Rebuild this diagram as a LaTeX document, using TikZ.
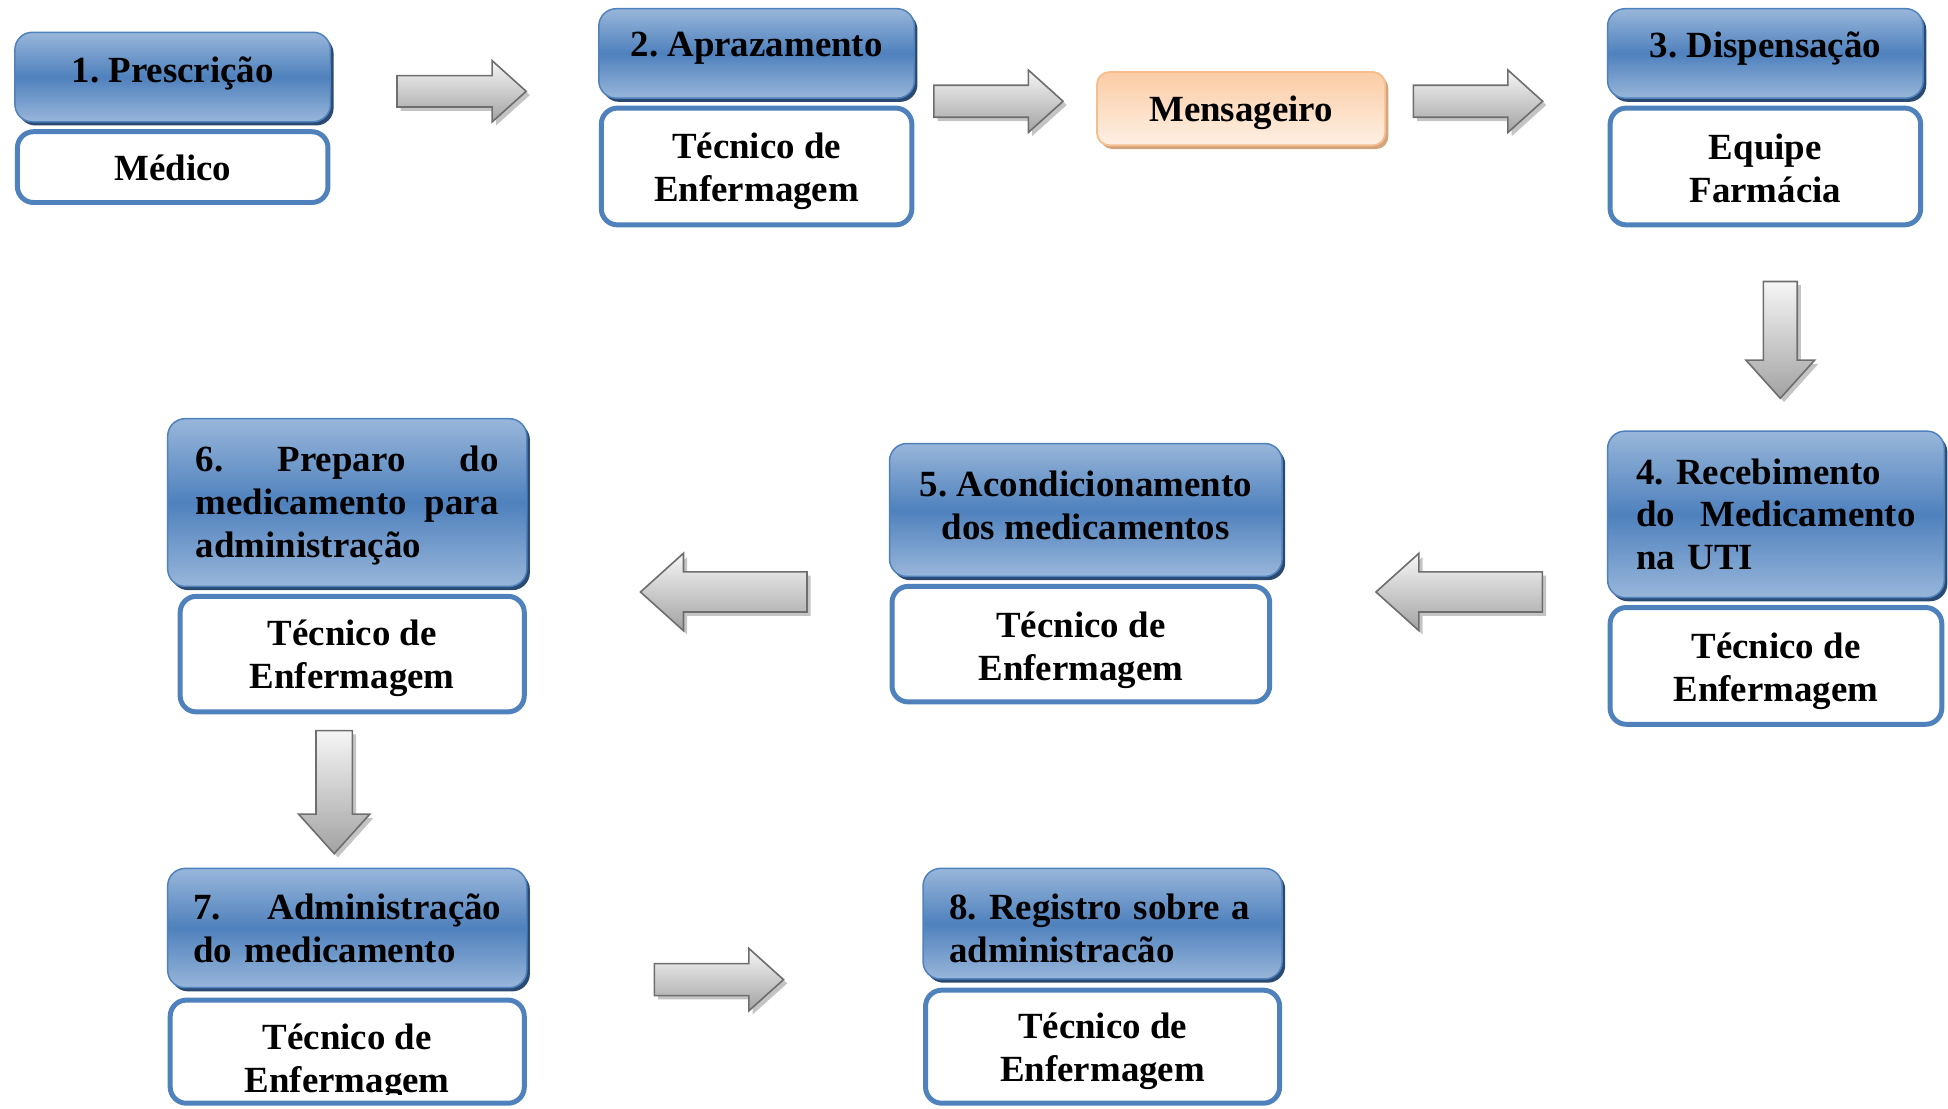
\documentclass[tikz,border=0pt]{standalone}
\usepackage{fontspec}
\setmainfont{Liberation Serif}
\usetikzlibrary{shapes.arrows,shadows}

\definecolor{hdrEdge}{HTML}{4F81BD}
\definecolor{hdrLight}{HTML}{98B6DA}
\definecolor{hdrDark}{HTML}{4F81BD}
\definecolor{hdrShadow}{HTML}{2B4A72}
\definecolor{roleEdge}{HTML}{4F81BD}
\definecolor{msgEdge}{HTML}{F6BE8F}
\definecolor{msgTop}{HTML}{FBCCA5}
\definecolor{msgBottom}{HTML}{FEF0E4}
\definecolor{msgShadow}{HTML}{D2A47C}
\definecolor{arrEdge}{HTML}{6E6E6E}
\definecolor{arrTop}{HTML}{F6F6F6}
\definecolor{arrDark}{HTML}{A2A2A2}
\definecolor{arrShadow}{HTML}{C4C4C4}

\newcommand\stagefont{\fontsize{29.7}{34.5}\selectfont\bfseries\frenchspacing}

\tikzset{
  stage/.style={draw=hdrEdge, line width=1.2pt, rounded corners=14pt,
    top color=hdrLight, bottom color=hdrLight, middle color=hdrDark,
    drop shadow={shadow xshift=2.5pt, shadow yshift=-3pt, fill=hdrShadow, opacity=1},
    inner sep=0pt},
  role/.style={draw=roleEdge, line width=4pt, rounded corners=13pt, fill=white, inner sep=0pt},
  messenger/.style={draw=msgEdge, line width=1.5pt, rounded corners=10pt,
    top color=msgTop, bottom color=msgBottom,
    drop shadow={shadow xshift=2.5pt, shadow yshift=-3pt, fill=msgShadow, opacity=1},
    inner sep=0pt},
  txt/.style={font=\stagefont, inner sep=0pt, align=center},
  txtleft/.style={txt, align=left, text width=#1},
  % shaft width = 2 x inner sep, head width = shaft + 2 x head extend
  blockarrow/.style={single arrow, draw=arrEdge, line width=1.3pt,
    top color=arrTop, bottom color=arrDark, single arrow head indent=0pt,
    single arrow tip angle=84,
    drop shadow={shadow xshift=3pt, shadow yshift=-3pt, fill=arrShadow, opacity=1}},
}

\begin{document}
\begin{tikzpicture}[x=1pt, y=-1pt]
  \useasboundingbox (0,0) rectangle (1568,892);

  % --- top row ---
  \node[stage, minimum width=254pt, minimum height=72pt] (h1) at (139,62) {};
  \node[txt] (h1t) at (139,59) {1. Prescrição};
  \node[role, minimum width=250pt, minimum height=57pt] (r1) at (139,134.5) {};
  \node[txt] (r1t) at (139,135.5) {Médico};

  \node[stage, minimum width=254pt, minimum height=72pt] (h2) at (609,43) {};
  \node[txt] (h2t) at (609,39) {2. Aprazamento};
  \node[role, minimum width=250pt, minimum height=94pt] (r2) at (609,134) {};
  \node[txt] (r2t) at (609,138) {Técnico de\\Enfermagem};

  \node[messenger, minimum width=232pt, minimum height=59pt] (msg) at (999,87.5) {};
  \node[txt] (msgt) at (999,91) {Mensageiro};

  \node[stage, minimum width=254pt, minimum height=72pt] (h3) at (1421,43) {};
  \node[txt] (h3t) at (1421,39) {3. Dispensação};
  \node[role, minimum width=250pt, minimum height=94pt] (r3) at (1421,134) {};
  \node[txt] (r3t) at (1421,135.5) {Equipe\\Farmácia};

  % --- middle row ---
  \node[stage, minimum width=271pt, minimum height=134pt] (h4) at (1429.5,414) {};
  \node[txtleft=225pt] (h4t) at (1429.5,414) {4. Recebimento\\do\hfill Medicamento\\na UTI};
  \node[role, minimum width=267pt, minimum height=94pt] (r4) at (1429.5,536) {};
  \node[txt] (r4t) at (1429.5,540) {Técnico de\\Enfermagem};

  \node[stage, minimum width=316pt, minimum height=107pt] (h5) at (874,410.5) {};
  \node[txt] (h5t) at (874,406.5) {5. Acondicionamento\\dos medicamentos};
  \node[role, minimum width=304pt, minimum height=93pt] (r5) at (870,518.5) {};
  \node[txt] (r5t) at (870,523.5) {Técnico de\\Enfermagem};

  \node[stage, minimum width=289pt, minimum height=135pt] (h6) at (279.5,404.5) {};
  \node[txtleft=244pt] (h6t) at (279.5,407) {6.\hfill Preparo\hfill do\\medicamento\hfill para\\administração};
  \node[role, minimum width=277pt, minimum height=93pt] (r6) at (283.5,526.5) {};
  \node[txt] (r6t) at (283.5,530) {Técnico de\\Enfermagem};

  % --- bottom row ---
  \node[stage, minimum width=289pt, minimum height=96pt] (h7) at (279.5,747) {};
  \node[txtleft=248pt] (h7t) at (279.5,747) {7.\hfill Administração\\do medicamento};
  \node[role, minimum width=285pt, minimum height=83pt] (r7) at (279.5,846.5) {};
  \begin{scope}
    \clip (r7.north west) rectangle ([yshift=9pt]r7.south east);
    \node[txt] (r7t) at (279.5,855) {Técnico de\\Enfermagem};
  \end{scope}

  \node[stage, minimum width=289pt, minimum height=89pt] (h8) at (887.5,743.5) {};
  \node[txtleft=247pt] (h8t) at (887.5,747) {8. Registro sobre a\\administracão};
  \node[role, minimum width=285pt, minimum height=91pt] (r8) at (887.5,842.5) {};
  \node[txt] (r8t) at (887.5,846.5) {Técnico de\\Enfermagem};

  % --- block arrows between the stages ---
  \node[blockarrow, inner sep=12pt, minimum height=104pt, minimum width=48pt, single arrow head extend=12pt] (a12) at (364.5,73.5) {};
  \node[blockarrow, inner sep=12.25pt, minimum height=104pt, minimum width=49pt, single arrow head extend=12.25pt] (a2m) at (796.5,81.5) {};
  \node[blockarrow, inner sep=12.25pt, minimum height=104pt, minimum width=49pt, single arrow head extend=12.25pt] (am3) at (1182.5,81.5) {};
  \node[blockarrow, shape border rotate=270, inner sep=13pt, minimum height=94pt, minimum width=54pt, single arrow head extend=14pt] (a34) at (1433,266) {};
  \node[blockarrow, shape border rotate=180, inner sep=15.5pt, minimum height=134pt, minimum width=61pt, single arrow head extend=15pt] (a45) at (1183.5,476.5) {};
  \node[blockarrow, shape border rotate=180, inner sep=15.5pt, minimum height=134pt, minimum width=61pt, single arrow head extend=15pt] (a56) at (591.5,476.5) {};
  \node[blockarrow, shape border rotate=270, inner sep=14pt, minimum height=99pt, minimum width=56pt, single arrow head extend=14pt] (a67) at (269,629.5) {};
  \node[blockarrow, inner sep=12.25pt, minimum height=104pt, minimum width=49pt, single arrow head extend=12.25pt] (a78) at (571.5,788.5) {};
\end{tikzpicture}
\end{document}
